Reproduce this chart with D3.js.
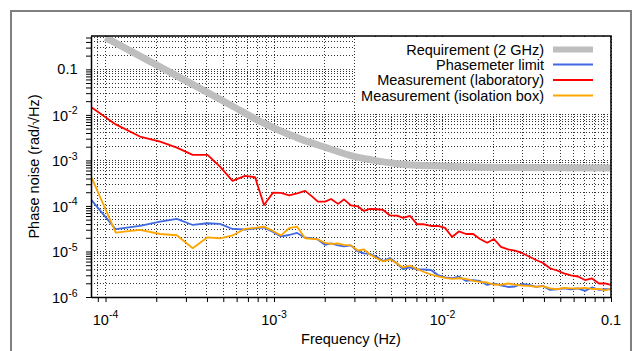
<!DOCTYPE html>
<html>
<head>
<meta charset="utf-8">
<script src="https://cdn.jsdelivr.net/npm/d3@7"></script>
<style>
body { margin: 0; background: #fff; }
text { font-family: "Liberation Sans", Arial, sans-serif; fill: #000; }
.grid line { stroke: #333; stroke-width: 1; stroke-dasharray: 1,2; shape-rendering: crispEdges; }
</style>
</head>
<body>
<svg id="chart"></svg>
<script>
// frequencies (Hz) of the measured spectra
var freq = [8.28e-5, 1.15e-4, 1.60e-4, 2.11e-4, 2.65e-4, 3.29e-4, 4.03e-4, 4.78e-4, 5.67e-4, 6.73e-4,
 7.72e-4, 8.72e-4, 9.87e-4, 1.10e-3, 1.23e-3, 1.37e-3, 1.53e-3, 1.68e-3, 1.82e-3, 2.01e-3,
 2.18e-3, 2.40e-3, 2.60e-3, 2.86e-3, 3.15e-3, 3.42e-3, 3.71e-3, 4.09e-3, 4.44e-3, 4.88e-3,
 5.37e-3, 5.83e-3, 6.41e-3, 7.06e-3, 7.77e-3, 8.54e-3, 9.40e-3, 1.035e-2, 1.14e-2, 1.25e-2,
 1.38e-2, 1.52e-2, 1.67e-2, 1.84e-2, 2.02e-2, 2.22e-2, 2.45e-2, 2.69e-2, 2.96e-2, 3.26e-2,
 3.59e-2, 3.95e-2, 4.35e-2, 4.78e-2, 5.26e-2, 5.79e-2, 6.37e-2, 7.01e-2, 7.71e-2, 8.49e-2,
 9.21e-2, 0.1]

var laboratory = [1.46e-2, 6.18e-3, 3.34e-3, 2.59e-3, 1.91e-3, 1.32e-3, 1.32e-3, 7.31e-4, 3.54e-4, 4.56e-4,
 4.27e-4, 1.05e-4, 1.96e-4, 1.93e-4, 1.70e-4, 1.88e-4, 2.14e-4, 1.62e-4, 1.24e-4, 1.24e-4,
 1.42e-4, 1.11e-4, 1.39e-4, 1.03e-4, 9.75e-5, 7.77e-5, 8.59e-5, 8.46e-5, 8.17e-5, 6.18e-5,
 6.12e-5, 5.45e-5, 6.03e-5, 3.96e-5, 3.96e-5, 3.63e-5, 3.63e-5, 3.29e-5, 2.08e-5, 2.75e-5,
 2.42e-5, 2.42e-5, 1.88e-5, 1.56e-5, 1.88e-5, 1.26e-5, 1.11e-5, 1.04e-5, 9.27e-6, 7.77e-6,
 6.50e-6, 5.59e-6, 4.27e-6, 3.82e-6, 3.29e-6, 3.00e-6, 2.82e-6, 2.36e-6, 2.55e-6, 1.98e-6,
 1.98e-6, 1.84e-6]

var phasemeter = [1.32e-4, 3.08e-5, 3.63e-5, 4.52e-5, 5.18e-5, 3.82e-5, 4.17e-5, 4.02e-5, 3.12e-5, 3.04e-5,
 3.20e-5, 3.37e-5, 2.68e-5, 2.14e-5, 2.30e-5, 2.55e-5, 2.01e-5, 1.95e-5, 1.84e-5, 1.39e-5,
 1.50e-5, 1.36e-5, 1.29e-5, 1.36e-5, 1.00e-5, 9.04e-6, 8.81e-6, 7.57e-6, 6.18e-6, 7.20e-6,
 5.45e-6, 4.12e-6, 4.45e-6, 4.02e-6, 4.02e-6, 3.92e-6, 3.04e-6, 2.71e-6, 2.58e-6, 2.82e-6,
 2.25e-6, 2.36e-6, 2.25e-6, 1.84e-6, 1.98e-6, 1.79e-6, 1.66e-6, 1.70e-6, 1.93e-6, 1.84e-6,
 1.66e-6, 1.75e-6, 1.43e-6, 1.48e-6, 1.54e-6, 1.48e-6, 1.55e-6, 1.36e-6, 1.62e-6, 1.43e-6,
 1.48e-6, 1.48e-6]

var isolationBox = [4.12e-4, 2.59e-5, 2.97e-5, 2.42e-5, 2.27e-5, 1.18e-5, 2.05e-5, 1.95e-5, 2.25e-5, 3.15e-5,
 3.29e-5, 3.51e-5, 2.82e-5, 2.25e-5, 3.24e-5, 3.51e-5, 1.95e-5, 1.90e-5, 1.85e-5, 1.54e-5,
 1.46e-5, 1.50e-5, 1.39e-5, 1.36e-5, 1.05e-5, 1.11e-5, 8.59e-6, 7.02e-6, 6.03e-6, 6.74e-6,
 5.45e-6, 4.45e-6, 4.92e-6, 4.12e-6, 3.54e-6, 3.12e-6, 2.85e-6, 2.62e-6, 2.49e-6, 2.58e-6,
 2.49e-6, 2.25e-6, 2.14e-6, 2.08e-6, 1.88e-6, 1.84e-6, 1.98e-6, 1.88e-6, 1.79e-6, 1.75e-6,
 1.68e-6, 1.73e-6, 1.55e-6, 1.48e-6, 1.58e-6, 1.55e-6, 1.54e-6, 1.59e-6, 1.50e-6, 1.51e-6,
 1.39e-6, 1.55e-6]

// requirement curve (2 GHz)
var reqFreq = [1e-4, 3.64e-4, 5.48e-4, 8.60e-4, 1.43e-3, 2.06e-3, 2.83e-3, 4.09e-3, 5.60e-3, 1.11e-2, 2.19e-2, 0.1]
var requirement = [0.50, 0.0382, 0.0167, 6.67e-3, 2.97e-3, 1.88e-3, 1.29e-3, 9.75e-4, 8.37e-4, 7.38e-4, 7.02e-4, 6.84e-4]

var xTickValues = [1e-4, 1e-3, 1e-2, 0.1]
var xTickLabels = ["10^-4", "10^-3", "10^-2", "0.1"]
var yTickValues = [1e-6, 1e-5, 1e-4, 1e-3, 1e-2, 0.1]
var yTickLabels = ["10^-6", "10^-5", "10^-4", "10^-3", "10^-2", "0.1"]

var legendLabels = ["Requirement (2 GHz)", "Phasemeter limit", "Measurement (laboratory)", "Measurement (isolation box)"]
var legendColors = ["#bebebe", "#4169e1", "#ff0000", "#ffa500"]

var svgw = 640
var svgh = 351
var plot = {left: 91, top: 36, right: 611, bottom: 297}

var svg = d3.select("#chart")
    .attr("width", svgw)
    .attr("height", svgh)

var xScale = d3.scaleLog()
    .domain([8.2e-5, 0.1])
    .range([plot.left, plot.right])

var yScale = d3.scaleLog()
    .domain([1e-6, 0.54])
    .range([plot.bottom, plot.top])

// outer frame (cut by the bottom of the picture)
svg.append("rect")
    .attr("x", 11).attr("y", 11)
    .attr("width", 620).attr("height", 360)
    .attr("fill", "none")
    .attr("stroke", "#808080")
    .attr("stroke-width", 2)

svg.append("defs").append("clipPath").attr("id", "plotclip")
    .append("rect")
    .attr("x", plot.left).attr("y", plot.top)
    .attr("width", plot.right - plot.left).attr("height", plot.bottom - plot.top)

var drawGrid = function(target)
{
    var grid = target.append("g").attr("class", "grid")
    grid.selectAll(".vx")
        .data(xScale.ticks())
        .enter()
        .append("line")
        .attr("x1", function(d){return xScale(d)})
        .attr("x2", function(d){return xScale(d)})
        .attr("y1", plot.top)
        .attr("y2", plot.bottom)
    grid.selectAll(".hy")
        .data(yScale.ticks())
        .enter()
        .append("line")
        .attr("x1", plot.left)
        .attr("x2", plot.right)
        .attr("y1", function(d){return yScale(d)})
        .attr("y2", function(d){return yScale(d)})
}

var drawLines = function(target)
{
    var g = target.append("g").attr("clip-path", "url(#plotclip)")

    var reqLine = d3.line()
        .x(function(d){return xScale(reqFreq[d])})
        .y(function(d){return yScale(requirement[d])})
        .curve(d3.curveMonotoneX)
    g.append("path")
        .attr("d", reqLine(d3.range(reqFreq.length)))
        .attr("fill", "none")
        .attr("stroke", legendColors[0])
        .attr("stroke-width", 7)

    var series = [phasemeter, laboratory, isolationBox]
    var colors = [legendColors[1], legendColors[2], legendColors[3]]
    // draw order: laboratory, phasemeter, isolation box on top
    var order = [1, 0, 2]
    order.forEach(function(k)
    {
        var vals = series[k]
        var line = d3.line()
            .x(function(d){return xScale(freq[d])})
            .y(function(d){return yScale(vals[d])})
        g.append("path")
            .attr("d", line(d3.range(freq.length)))
            .attr("fill", "none")
            .attr("stroke", colors[k])
            .attr("stroke-width", 1.8)
            .attr("stroke-linejoin", "round")
    })
}

var addPowerLabel = function(target, label, x, y, anchor)
{
    var parts = label.split("^")
    var t = target.append("text")
        .attr("x", x)
        .attr("y", y)
        .attr("text-anchor", anchor)
        .style("font-size", "14.5px")
    t.append("tspan").text(parts[0])
    if(parts.length > 1)
    {
        t.append("tspan")
            .attr("dy", -6.5)
            .style("font-size", "10.5px")
            .text(parts[1])
    }
}

var drawAxes = function(target)
{
    var xAxis = d3.axisBottom(xScale)
        .tickValues(xScale.ticks())
        .tickSize(5)
        .tickSizeOuter(0)
        .tickFormat("")
    target.append("g")
        .attr("transform", "translate(0," + plot.bottom + ")")
        .call(xAxis)

    var yAxis = d3.axisLeft(yScale)
        .tickValues(yScale.ticks())
        .tickSize(5)
        .tickSizeOuter(0)
        .tickFormat("")
    target.append("g")
        .attr("transform", "translate(" + plot.left + ",0)")
        .call(yAxis)

    target.selectAll(".domain").attr("stroke", "#000").attr("stroke-width", 1.5)
    target.selectAll(".tick line").attr("stroke", "#000").attr("stroke-width", 1)

    // top and right border
    target.append("path")
        .attr("d", "M" + plot.left + "," + plot.top + "H" + plot.right + "V" + plot.bottom)
        .attr("fill", "none")
        .attr("stroke", "#000")
        .attr("stroke-width", 1.5)

    xTickValues.forEach(function(v, i)
    {
        addPowerLabel(target, xTickLabels[i], xScale(v), 324.5, "middle")
    })
    yTickValues.forEach(function(v, i)
    {
        var off = yTickLabels[i].indexOf("^") >= 0 ? 6 : 5
        addPowerLabel(target, yTickLabels[i], 77.5, yScale(v) + off, "end")
    })
}

var drawLabels = function(target)
{
    target.append("text")
        .text("Frequency (Hz)")
        .attr("text-anchor", "middle")
        .attr("x", (plot.left + plot.right) / 2)
        .attr("y", 344)
        .style("font-size", "14.5px")

    target.append("text")
        .attr("transform", "translate(39," + ((plot.top + plot.bottom) / 2) + ") rotate(-90)")
        .text("Phase noise (rad/\u221AHz)")
        .attr("text-anchor", "middle")
        .style("font-size", "14.5px")
}

var drawLegend = function(target)
{
    var rows = [49.5, 64.5, 80, 95.5]
    target.append("rect")
        .attr("x", 355).attr("y", plot.top + 1)
        .attr("width", plot.right - 355 - 1).attr("height", 76)
        .attr("fill", "#fff")
    legendLabels.forEach(function(lab, i)
    {
        target.append("text")
            .text(lab)
            .attr("text-anchor", "end")
            .attr("x", 544)
            .attr("y", rows[i] + 5)
            .style("font-size", "14.5px")
        target.append("line")
            .attr("x1", 553).attr("x2", 593)
            .attr("y1", rows[i]).attr("y2", rows[i])
            .attr("stroke", legendColors[i])
            .attr("stroke-width", i == 0 ? 6 : 1.8)
    })
}

drawGrid(svg)
drawLines(svg)
drawLegend(svg)
drawAxes(svg)
drawLabels(svg)
</script>
</body>
</html>
